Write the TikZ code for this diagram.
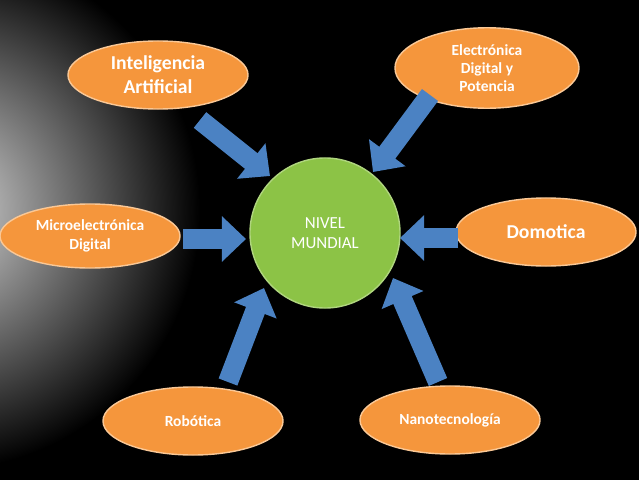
\documentclass[tikz,border=0pt]{standalone}
\usepackage{fontspec}
\setmainfont{Carlito}
\usetikzlibrary{arrows.meta,shapes.geometric}
\definecolor{tema}{RGB}{245,150,60}
\definecolor{temaborde}{RGB}{250,200,150}
\definecolor{centro}{RGB}{140,195,70}
\definecolor{flecha}{RGB}{75,130,195}

\tikzset{
  tema/.style={ellipse, fill=tema, draw=temaborde, line width=1pt, minimum width=4.5cm,
    minimum height=1.7cm, text=white, font=\bfseries\fontsize{11}{13}\selectfont, align=center},
  bloque/.style={draw=flecha, fill=none, line width=0.5cm, -{Triangle[length=0.6cm,width=1.1cm]}}
}

\begin{document}
\begin{tikzpicture}[x=0.025cm,y=-0.025cm]
                    % Fondo
                    \useasboundingbox (0,0) rectangle (639,480);
                    \begin{scope}
                      \clip (0,0) rectangle (639,480);
                      \fill[black] (0,0) rectangle (639,480);
                      \shade[inner color=gray!30, outer color=black] (-60,210) circle (260);
                    \end{scope}

                    % Centro
                    \node[circle, fill=centro, draw=centro!70!white, line width=1pt, minimum size=3.75cm,
                      text=white, font=\fontsize{12}{14}\selectfont, align=center] (mundial) at (325,233) {NIVEL\\MUNDIAL};

                    % Temas
                    \node[tema, font=\bfseries\fontsize{14}{17}\selectfont] (ia) at (158,75) {Inteligencia\\Artificial};
                    \node[tema, minimum width=4.6cm] (electronica) at (487,68) {Electrónica\\Digital y\\Potencia};
                    \node[tema, minimum height=1.6cm] (micro) at (90,236) {Microelectrónica\\Digital};
                    \node[tema, font=\bfseries\fontsize{14}{17}\selectfont] (domotica) at (546,232) {Domotica};
                    \node[tema] (robotica) at (193,421) {Robótica};
                    \node[tema] (nano) at (450,420) {Nanotecnología};

                    % Flechas
                    \coordinate (ia1) at (200,120);   \coordinate (ia2) at (270,176);
                    \coordinate (el1) at (430,95);    \coordinate (el2) at (373,172);
                    \coordinate (mi1) at (183,239);   \coordinate (mi2) at (246,239);
                    \coordinate (do1) at (458,238);   \coordinate (do2) at (400,238);
                    \coordinate (ro1) at (228,382);   \coordinate (ro2) at (264,288);
                    \coordinate (na1) at (438,382);   \coordinate (na2) at (393,278);
                    \draw[bloque] (ia1) -- (ia2);
                    \draw[bloque] (el1) -- (el2);
                    \draw[bloque] (mi1) -- (mi2);
                    \draw[bloque] (do1) -- (do2);
                    \draw[bloque] (ro1) -- (ro2);
                    \draw[bloque] (na1) -- (na2);
\end{tikzpicture}
\end{document}
